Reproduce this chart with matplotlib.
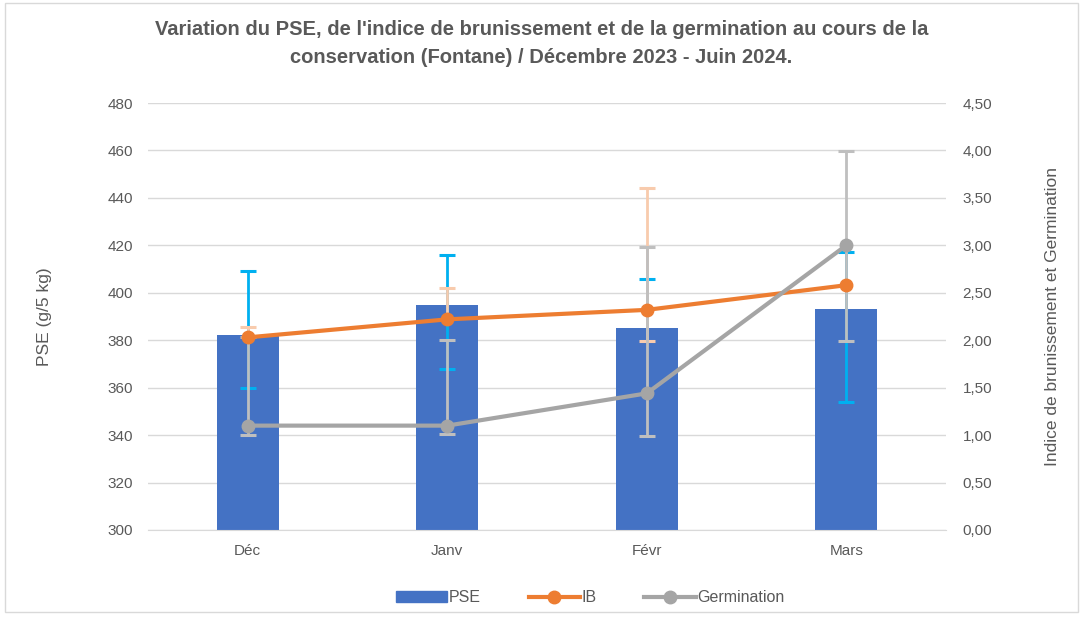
import matplotlib
matplotlib.use("Agg")
import matplotlib.pyplot as plt
from matplotlib.patches import Rectangle, Patch
from matplotlib.lines import Line2D
import numpy as np

months = ["Déc", "Janv", "Févr", "Mars"]

# bar values and error bar ends (end == value means no bar on that side)
pse = [382, 395, 385, 393]
pse_low = [360, 368, 385, 354]
pse_high = [409, 416, 406, 417]

ib = [2.03, 2.22, 2.32, 2.58]
ib_low = [2.03, 2.22, 1.99, 2.58]
ib_high = [2.14, 2.55, 3.60, 2.58]

germ = [1.10, 1.10, 1.44, 3.00]
germ_low = [1.00, 1.01, 0.99, 1.99]
germ_high = [2.03, 2.00, 2.98, 3.99]

title = ("Variation du PSE, de l'indice de brunissement et de la germination au cours de la\n"
         "conservation (Fontane) / Décembre 2023 - Juin 2024.")

txt = "#595959"
plt.rcParams["font.family"] = ["Liberation Sans", "DejaVu Sans"]


def err_bars(a, xs, vals, lo, hi, color, z):
    for xi, v, l, h in zip(xs, vals, lo, hi):
        for end in (l, h):
            if end != v:
                a.plot([xi, xi], [v, end], color=color, linewidth=2, zorder=z)
                a.plot([xi], [end], marker="_", markersize=12, mew=2.2,
                       color=color, zorder=z)


fig = plt.figure(figsize=(10.83, 6.18), dpi=100)
ax = fig.add_axes([0.1367, 0.1424, 0.7368, 0.6909])
ax2 = ax.twinx()

x = np.arange(len(months))

ax.bar(x, pse, width=0.31, color="#4472C4", zorder=2)
err_bars(ax, x, pse, pse_low, pse_high, "#00B0F0", 3)
ax.set_ylim(300, 480)
ax.set_yticks(np.arange(300, 481, 20))
ax.set_xlim(-0.5, 3.5)
ax.set_xticks(x)
ax.set_xticklabels(months)
ax.grid(axis="y", color="#d9d9d9", linewidth=1, zorder=0)
ax.set_axisbelow(True)
ax.set_ylabel("PSE (g/5 kg)", fontsize=12.5, color=txt, labelpad=40)

err_bars(ax2, x, ib, ib_low, ib_high, "#F8CBAD", 3)
err_bars(ax2, x, germ, germ_low, germ_high, "#BFBFBF", 4)
ax2.plot(x, ib, color="#ED7D31", linewidth=3, marker="o", markersize=9, zorder=5)
ax2.plot(x, germ, color="#A5A5A5", linewidth=3, marker="o", markersize=9, zorder=6)
ax2.set_ylim(0, 4.5)
ax2.set_xlim(-0.5, 3.5)
ax2.set_yticks(np.arange(0, 4.51, 0.5))
ax2.set_yticklabels([f"{v:.2f}".replace(".", ",") for v in np.arange(0, 4.51, 0.5)])
ax2.set_ylabel("Indice de brunissement et Germination", fontsize=12.5, color=txt,
               labelpad=38)

for a in (ax, ax2):
    for s in a.spines.values():
        s.set_visible(False)
    a.tick_params(length=0, labelsize=11, labelcolor=txt)
ax.tick_params(axis="y", pad=11)
ax.tick_params(axis="x", pad=10)
ax2.tick_params(axis="y", pad=12)
ax.spines["bottom"].set_visible(True)
ax.spines["bottom"].set_color("#d9d9d9")

fig.text(0.5, 0.93, title, ha="center", va="center", fontsize=14.5,
         fontweight="bold", color=txt, linespacing=1.6)

handles = [Patch(color="#4472C4"),
           Line2D([], [], color="#ED7D31", linewidth=3, marker="o", markersize=9),
           Line2D([], [], color="#A5A5A5", linewidth=3, marker="o", markersize=9)]
fig.legend(handles, ["PSE", "IB", "Germination"], loc="center", ncol=3,
           bbox_to_anchor=(0.545, 0.033), frameon=False, fontsize=11.5,
           labelcolor=txt, handlelength=3.2, handletextpad=0.1, columnspacing=3)

fig.patches.append(Rectangle((0.005, 0.01), 0.99, 0.985, transform=fig.transFigure,
                             fill=False, edgecolor="#d9d9d9", linewidth=1))

fig.savefig("out.png", dpi=100)
